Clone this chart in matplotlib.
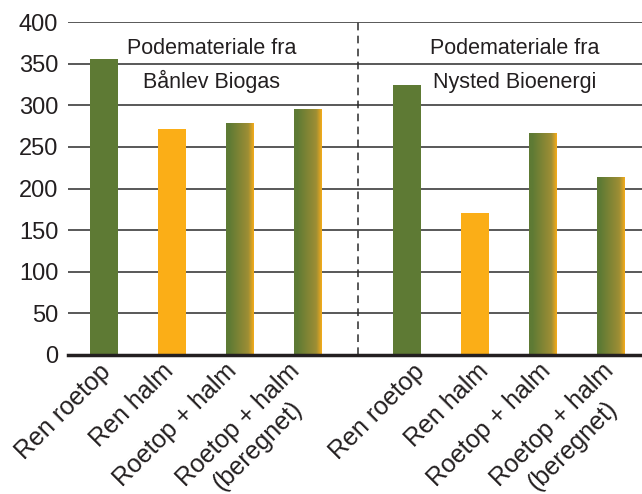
import numpy as np
import matplotlib.pyplot as plt
from matplotlib.colors import LinearSegmentedColormap

plt.rcParams['font.family'] = ['Liberation Sans', 'DejaVu Sans']

# data
categories = ['Ren roetop', 'Ren halm', 'Roetop + halm', 'Roetop + halm\n(beregnet)']
values_banlev = [356, 272, 279, 296]
values_nysted = [324, 171, 267, 214]
kinds = ['green', 'orange', 'mix', 'mix']
group_titles = [('Podemateriale fra', 'Bånlev Biogas'), ('Podemateriale fra', 'Nysted Bioenergi')]

green = '#5E7A34'
orange = '#FBAE17'
mix_cmap = LinearSegmentedColormap.from_list(
    'mix', [(0.0, green), (0.12, green), (0.8, '#9E8E35'), (1.0, '#F6AC1A')])

x_left = np.arange(4)
x_right = np.arange(4) + 4.46
xs = np.concatenate([x_left, x_right])
vals = values_banlev + values_nysted
bar_w = 0.41

# label slots are spaced a bit tighter than the bars
label_step = 0.926
label_x = -0.09 + label_step * np.array([0, 1, 2, 3, 5, 6, 7, 8])

fig = plt.figure(figsize=(6.42, 4.94), dpi=100)
ax = fig.add_axes([0.106, 0.2814, 0.894, 0.674])

ax.set_yticks(np.arange(0, 401, 50))
ax.yaxis.grid(True, color='#2b2b2b', linewidth=1.1)
ax.set_axisbelow(True)

grad = np.linspace(0, 1, 256).reshape(1, -1)
for i, (x, v) in enumerate(zip(xs, vals)):
    kind = kinds[i % 4]
    if kind == 'green':
        ax.bar(x, v, bar_w, color=green, zorder=3)
    elif kind == 'orange':
        ax.bar(x, v, bar_w, color=orange, zorder=3)
    else:
        b = ax.bar(x, v, bar_w, color='none', zorder=3)[0]
        im = ax.imshow(grad, cmap=mix_cmap, aspect='auto', zorder=3,
                       extent=[x - bar_w / 2, x + bar_w / 2, 0, v])
        im.set_clip_path(b)

ax.set_xlim(-0.53, 7.91)
ax.set_ylim(0, 400)

# separator
ax.axvline(3.74, color='#2b2b2b', linestyle=(0, (5, 3.5)), linewidth=1.1, zorder=2)

for cx, (t1, t2) in zip([1.58, 6.04], group_titles):
    ax.text(cx, 362, t1, ha='center', va='baseline', fontsize=15.5, color='#231f20', zorder=4)
    ax.text(cx, 321, t2, ha='center', va='baseline', fontsize=15.5, color='#231f20', zorder=4)

ax.set_xticks(label_x)
ax.set_xticklabels(categories * 2, rotation=45, ha='right', va='top',
                   rotation_mode='anchor', multialignment='center', linespacing=1.25,
                   fontsize=18, color='#231f20')
ax.tick_params(axis='x', length=0, pad=3)
ax.tick_params(axis='y', length=0, pad=7, labelsize=17, labelcolor='#231f20')

for s in ['left', 'right', 'top']:
    ax.spines[s].set_visible(False)
ax.spines['bottom'].set_linewidth(2.5)
ax.spines['bottom'].set_color('#231f20')
ax.spines['bottom'].set_zorder(5)

fig.savefig('out.png', dpi=100)
